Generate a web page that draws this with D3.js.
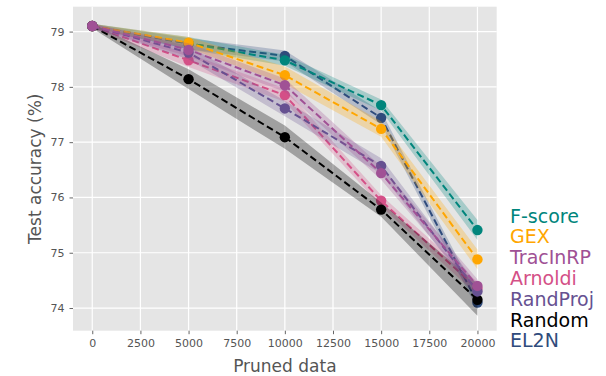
<!DOCTYPE html>
<html>
<head>
<meta charset="utf-8">
<script src="https://cdn.jsdelivr.net/npm/d3@7"></script>
<style>
  body { margin: 0; background: #fff; }
  text { font-family: "DejaVu Sans", sans-serif; }
</style>
</head>
<body>
<div id="chart"></div>
<script>
// data
const pruned = [0, 5000, 10000, 15000, 20000];
const xTicks = [0, 2500, 5000, 7500, 10000, 12500, 15000, 17500, 20000];
const yTicks = [74, 75, 76, 77, 78, 79];

const legendOrder = ['F-score', 'GEX', 'TracInRP', 'Arnoldi', 'RandProj', 'Random', 'EL2N'];
const drawOrder = ['EL2N', 'F-score', 'GEX', 'Arnoldi', 'Random', 'RandProj', 'TracInRP'];

const colors = {
  'F-score': '#00857c',
  'GEX': '#ffa600',
  'TracInRP': '#a05195',
  'Arnoldi': '#d45087',
  'RandProj': '#665191',
  'Random': '#000000',
  'EL2N': '#2f4b7c'
};

const fscoreMean = [79.1, 78.79, 78.48, 77.67, 75.41];
const fscoreSd = [0.04, 0.11, 0.1, 0.1, 0.18];
const gexMean = [79.1, 78.80, 78.21, 77.24, 74.88];
const gexSd = [0.04, 0.1, 0.16, 0.14, 0.18];
const tracinMean = [79.1, 78.67, 78.03, 76.44, 74.40];
const tracinSd = [0.04, 0.12, 0.12, 0.12, 0.12];
const arnoldiMean = [79.1, 78.48, 77.85, 75.94, 74.35];
const arnoldiSd = [0.04, 0.12, 0.12, 0.1, 0.12];
const randprojMean = [79.1, 78.62, 77.61, 76.57, 74.30];
const randprojSd = [0.04, 0.12, 0.14, 0.14, 0.12];
const randomMean = [79.1, 78.14, 77.09, 75.78, 74.15];
const randomSd = [0.04, 0.18, 0.21, 0.13, 0.29];
const el2nMean = [79.1, 78.78, 78.56, 77.44, 74.10];
const el2nSd = [0.04, 0.1, 0.1, 0.12, 0.12];

const series = {
  'F-score': [fscoreMean, fscoreSd],
  'GEX': [gexMean, gexSd],
  'TracInRP': [tracinMean, tracinSd],
  'Arnoldi': [arnoldiMean, arnoldiSd],
  'RandProj': [randprojMean, randprojSd],
  'Random': [randomMean, randomSd],
  'EL2N': [el2nMean, el2nSd]
};

const width = 606, height = 376;
const panel = {left: 73, right: 496.7, top: 6.7, bottom: 330.7};

const svg = d3.select('#chart').append('svg')
  .attr('width', width)
  .attr('height', height);

const x = d3.scaleLinear().domain([-1000, 21000]).range([panel.left, panel.right]);
const y = d3.scaleLinear().domain([73.59, 79.45]).range([panel.bottom, panel.top]);

// background + grid
svg.append('rect')
  .attr('x', panel.left).attr('y', panel.top)
  .attr('width', panel.right - panel.left)
  .attr('height', panel.bottom - panel.top)
  .attr('fill', '#e5e5e5');

svg.append('g').selectAll('line').data(xTicks).enter().append('line')
  .attr('x1', d => x(d)).attr('x2', d => x(d))
  .attr('y1', panel.top).attr('y2', panel.bottom)
  .attr('stroke', '#fff').attr('stroke-width', 1.2);
svg.append('g').selectAll('line').data(yTicks).enter().append('line')
  .attr('y1', d => y(d)).attr('y2', d => y(d))
  .attr('x1', panel.left).attr('x2', panel.right)
  .attr('stroke', '#fff').attr('stroke-width', 1.2);

// axes
const xAxis = svg.append('g')
  .attr('transform', `translate(0, ${panel.bottom})`)
  .call(d3.axisBottom(x).tickValues(xTicks).tickSize(3.5).tickPadding(5).tickFormat(d3.format('d')));
const yAxis = svg.append('g')
  .attr('transform', `translate(${panel.left}, 0)`)
  .call(d3.axisLeft(y).tickValues(yTicks).tickSize(3.5).tickPadding(5).tickFormat(d3.format('d')));
[xAxis, yAxis].forEach(a => {
  a.select('.domain').remove();
  a.selectAll('line').attr('stroke', '#555').attr('stroke-width', 0.9);
  a.selectAll('text').attr('fill', '#555')
    .style('font-size', '11px')
    .style('font-family', '"DejaVu Sans", sans-serif');
});

svg.append('text')
  .attr('x', (panel.left + panel.right) / 2)
  .attr('y', 372)
  .attr('text-anchor', 'middle')
  .attr('fill', '#555')
  .style('font-size', '17px')
  .text('Pruned data');

svg.append('text')
  .attr('transform', `translate(41, ${(panel.top + panel.bottom) / 2}) rotate(-90)`)
  .attr('text-anchor', 'middle')
  .attr('fill', '#555')
  .style('font-size', '17px')
  .text('Test accuracy (%)');

// series
const area = d3.area()
  .x(d => x(d.x))
  .y0(d => y(d.m - d.s))
  .y1(d => y(d.m + d.s));
const line = d3.line().x(d => x(d.x)).y(d => y(d.m));

const plot = svg.append('g');
drawOrder.forEach(name => {
  const [mean, sd] = series[name];
  const pts = pruned.map((p, i) => ({x: p, m: mean[i], s: sd[i]}));
  const c = colors[name];
  plot.append('path').datum(pts)
    .attr('d', area)
    .attr('fill', c)
    .attr('fill-opacity', name === 'Random' ? 0.3 : 0.27);
  plot.append('path').datum(pts)
    .attr('d', line)
    .attr('fill', 'none')
    .attr('stroke', c)
    .attr('stroke-width', 2)
    .attr('stroke-dasharray', '7,3.6');
  plot.append('g').selectAll('circle').data(pts).enter().append('circle')
    .attr('cx', d => x(d.x))
    .attr('cy', d => y(d.m))
    .attr('r', 5.2)
    .attr('fill', c);
});

// legend as coloured text
svg.append('g').selectAll('text').data(legendOrder).enter().append('text')
  .attr('x', 510)
  .attr('y', (d, i) => 222.5 + i * 20.8)
  .attr('fill', d => colors[d])
  .style('font-size', '19px')
  .text(d => d);
</script>
</body>
</html>
